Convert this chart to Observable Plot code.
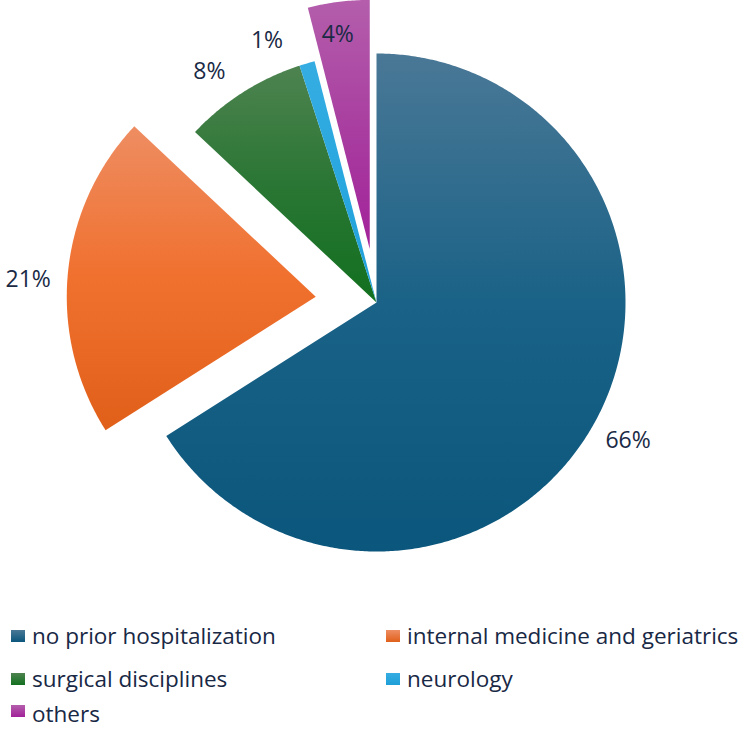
<!DOCTYPE html>
<html>
<head>
<meta charset="utf-8">
<script src="https://cdn.jsdelivr.net/npm/d3@7"></script>
<script src="https://cdn.jsdelivr.net/npm/@observablehq/plot@0.6"></script>
<style>
  body { margin: 0; background: #fff; font-family: "Open Sans", sans-serif; }
  #chart svg { display: block; }
  #legend {
    display: grid;
    grid-template-columns: 375px 375px;
    grid-template-rows: 43px 43px 30px;
    height: 116px;
    color: #182845;
    font-size: 22.5px;
  }
  #legend .item { display: flex; align-items: center; padding-left: 11px; white-space: nowrap; line-height: 18px; }
  #legend .item:nth-child(n+5) { align-items: flex-start; padding-top: 5px; }
  #legend .sw { width: 14px; height: 12px; margin-right: 7px; flex: none; }
</style>
</head>
<body>
<div id="chart"></div>
<div id="legend"></div>
<script>
// Share of patients by prior hospitalization ward (percent)
const categories = [
  "no prior hospitalization",
  "internal medicine and geriatrics",
  "surgical disciplines",
  "neurology",
  "others"
];
const shares = [66, 21, 8, 1, 4];
const labels = ["66%", "21%", "8%", "1%", "4%"];

// Slice styling: vertical gradient stops (top -> bottom)
const gradients = [
  ["#4a7896", "#1a6287", "#0b567c"],
  ["#ee8d62", "#f0702e", "#e0601a"],
  ["#4e8350", "#2a7634", "#12701f"],
  ["#35ade2", "#29a7df", "#1f9fd8"],
  ["#b45eac", "#a93fa0", "#a2229a"]
];
const explode = [0, 61, 0, 0, 54];          // pixel offset of pulled-out slices
const labelRadius = [1.153, 1.157, 1.145, 1.14, 0.87]; // in units of pie radius
const labelNudge = [0, -2, -3.5, -6.5, -1.3];          // degrees

const W = 750, H = 614, R = 249, CX = 376, CY = 302;
const rad = d => d * Math.PI / 180;

const pie = d3.pie().sort(null).value(d => d)(shares);

// Build each slice outline as a closed polygon in pie-radius units (y up)
const slices = pie.map((p, i) => {
  const mid = (p.startAngle + p.endAngle) / 2;
  const ox = explode[i] / R * Math.sin(mid);
  const oy = explode[i] / R * Math.cos(mid);
  const pts = [{x: ox, y: oy}];
  const n = Math.max(4, Math.ceil((p.endAngle - p.startAngle) / rad(0.5)));
  for (let k = 0; k <= n; k++) {
    const a = p.startAngle + (p.endAngle - p.startAngle) * k / n;
    pts.push({x: ox + Math.sin(a), y: oy + Math.cos(a)});
  }
  pts.push({x: ox, y: oy});
  return {i, mid, ox, oy, pts};
});

const labelData = slices.map(s => {
  const a = s.mid + rad(labelNudge[s.i]);
  return {
    x: s.ox + labelRadius[s.i] * Math.sin(a),
    y: s.oy + labelRadius[s.i] * Math.cos(a),
    text: labels[s.i]
  };
});

const plot = Plot.plot({
  width: W,
  height: H,
  margin: 0,
  x: {domain: [-CX / R, (W - CX) / R], range: [0, W], axis: null},
  y: {domain: [-(H - CY) / R, CY / R], range: [H, 0], axis: null},
  marks: [
    ...slices.map(s => Plot.line(s.pts, {
      x: "x", y: "y",
      fill: `url(#slice-grad-${s.i})`,
      stroke: "none"
    })),
    Plot.text(labelData, {
      x: "x", y: "y", text: "text",
      fontSize: 23,
      fontFamily: "Open Sans, sans-serif",
      fill: "#1a2a45"
    })
  ]
});

// Gradient definitions for the slices
const defs = d3.select(plot).insert("defs", ":first-child");
gradients.forEach((stops, i) => {
  const g = defs.append("linearGradient")
    .attr("id", `slice-grad-${i}`)
    .attr("x1", 0).attr("y1", 0).attr("x2", 0).attr("y2", 1);
  stops.forEach((c, k) => g.append("stop")
    .attr("offset", k / (stops.length - 1))
    .attr("stop-color", c));
});

document.getElementById("chart").appendChild(plot);

// Legend below the pie
const legend = d3.select("#legend");
categories.forEach((c, i) => {
  const item = legend.append("div").attr("class", "item");
  item.append("span").attr("class", "sw")
    .style("background", `linear-gradient(${gradients[i][0]}, ${gradients[i][2]})`);
  item.append("span").text(c);
});
</script>
</body>
</html>
